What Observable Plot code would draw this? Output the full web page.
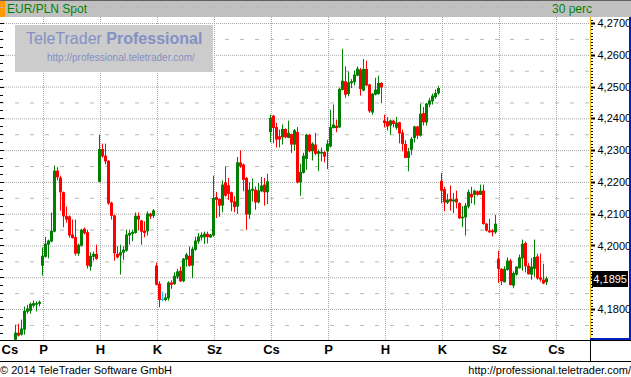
<!DOCTYPE html>
<html><head><meta charset="utf-8">
<script src="https://cdn.jsdelivr.net/npm/d3@7"></script>
<script src="https://cdn.jsdelivr.net/npm/@observablehq/plot@0.6"></script>
<style>
html,body{margin:0;padding:0;background:#fff;}
#wrap{position:relative;width:631px;height:377px;overflow:hidden;background:#fff;font-family:"Liberation Sans",Arial,sans-serif;}
.abs{position:absolute;}
</style></head><body>
<div id="wrap">
  <div class="abs" style="left:0;top:0;width:631px;height:17px;background:#c0c0c0;"></div>
  <div class="abs" style="left:0;top:0;width:631px;height:1px;background:#606060;"></div>
  <div class="abs" style="left:0;top:1px;width:5px;height:16px;background:#ff9900;"></div>
  <div class="abs" style="left:7px;top:2px;font-size:12px;line-height:14px;color:#008000;">EUR/PLN Spot</div>
  <div class="abs" style="left:552px;top:2px;font-size:12px;line-height:14px;color:#008000;">30 perc</div>
  <div id="chart" class="abs" style="left:0;top:17px;"></div>
  <div class="abs" style="left:15px;top:25px;width:198px;height:47px;background:#cccccc;"></div>
  <div class="abs" style="left:26px;top:30px;font-size:16px;line-height:18px;color:#8590c4;white-space:nowrap;">TeleTrader <b>Professional</b></div>
  <div class="abs" style="left:47px;top:52px;font-size:10px;line-height:11px;color:#8590c4;white-space:nowrap;">http://professional.teletrader.com/</div>
  <div class="abs" style="left:0;top:361px;width:631px;height:1px;background:#000;"></div>
  <div class="abs" style="left:0;top:363px;font-size:11px;line-height:14px;color:#000;white-space:nowrap;">© 2014 TeleTrader Software GmbH</div>
  <div class="abs" style="right:0;top:363px;font-size:11px;line-height:14px;color:#000;white-space:nowrap;">http://professional.teletrader.com/</div>
</div>
<script>
// EUR/PLN Spot, 30-minute bars
const dayNames = ["Cs","P","H","K","Sz","Cs","P","H","K","Sz","Cs"];
const sessionBars = 19;   // half-hour bars in a full session
const firstDayBars = 9;   // bars of the partial first session shown
const yTicks = [4.18, 4.19, 4.20, 4.21, 4.22, 4.23, 4.24, 4.25, 4.26, 4.27];
const lastPrice = 4.1895;

const open = [
  4.1705,4.1724,4.1721,4.1737,4.1793,4.1796,4.1812,4.1815,4.1818,
  4.1938,4.1966,4.2004,4.2014,4.2045,4.2234,4.2212,4.2166,4.2091,4.2090,4.2033,4.2025,4.1976,4.2001,4.2051,4.2040,4.1935,4.1966,4.1972,
  4.2202,4.2302,4.2281,4.2265,4.2133,4.2093,4.1972,4.1970,4.1979,4.1985,4.2033,4.2038,4.2041,4.2092,4.2077,4.2045,4.2046,4.2099,4.2095,
  4.1935,4.1878,4.1830,4.1830,4.1835,4.1882,4.1880,4.1903,4.1919,4.1889,4.1957,4.1966,4.1938,4.1988,4.2014,4.2027,4.2027,4.2035,4.2027,
  4.2033,4.2151,4.2145,4.2127,4.2197,4.2188,4.2166,4.2137,4.2124,4.2260,4.2253,4.2211,4.2099,4.2174,4.2174,4.2137,4.2172,4.2190,4.2169,
  4.2358,4.2407,4.2371,4.2342,4.2342,4.2365,4.2340,4.2349,4.2319,4.2356,4.2200,4.2230,4.2274,4.2347,4.2298,4.2316,4.2290,4.2291,4.2293,
  4.2298,4.2313,4.2371,4.2375,4.2373,4.2491,4.2515,4.2478,4.2512,4.2515,4.2536,4.2552,4.2489,4.2554,4.2505,4.2420,4.2476,4.2478,4.2510,
  4.2392,4.2389,4.2379,4.2391,4.2372,4.2386,4.2354,4.2318,4.2277,4.2303,4.2340,4.2373,4.2347,4.2415,4.2389,4.2445,4.2455,4.2468,4.2480,
  4.2202,4.2176,4.2136,4.2145,4.2140,4.2146,4.2132,4.2087,4.2090,4.2124,4.2161,4.2161,4.2169,4.2161,4.2171,4.2067,4.2046,4.2046,4.2043,
  4.1957,4.1925,4.1886,4.1925,4.1951,4.1875,4.1910,4.1930,4.1961,4.2006,4.1935,4.1910,4.1928,4.1964,4.1898,4.1891,4.1886
];
const high = [
  4.1749,4.1752,4.1765,4.1806,4.1812,4.1819,4.1825,4.1823,4.1825,
  4.1992,4.2026,4.2017,4.2102,4.2250,4.2245,4.2218,4.2168,4.2121,4.2093,4.2080,4.2080,4.2004,4.2051,4.2055,4.2048,4.1977,4.1979,4.2001,
  4.2347,4.2319,4.2319,4.2267,4.2136,4.2095,4.1996,4.2001,4.1996,4.2048,4.2048,4.2048,4.2102,4.2102,4.2079,4.2074,4.2106,4.2101,4.2113,
  4.1945,4.1886,4.1854,4.1847,4.1886,4.1889,4.1914,4.1925,4.1932,4.1959,4.1975,4.1995,4.1994,4.2026,4.2038,4.2040,4.2042,4.2042,4.2035,
  4.2218,4.2167,4.2147,4.2203,4.2247,4.2211,4.2168,4.2153,4.2277,4.2298,4.2256,4.2214,4.2197,4.2209,4.2184,4.2195,4.2214,4.2211,4.2224,
  4.2410,4.2409,4.2384,4.2363,4.2379,4.2367,4.2391,4.2350,4.2365,4.2371,4.2256,4.2290,4.2350,4.2349,4.2323,4.2353,4.2300,4.2307,4.2295,
  4.2331,4.2426,4.2442,4.2394,4.2495,4.2617,4.2562,4.2546,4.2522,4.2549,4.2562,4.2557,4.2585,4.2580,4.2507,4.2478,4.2526,4.2533,4.2512,
  4.2410,4.2402,4.2394,4.2394,4.2403,4.2388,4.2363,4.2329,4.2305,4.2340,4.2375,4.2375,4.2445,4.2434,4.2447,4.2463,4.2476,4.2489,4.2501,
  4.2227,4.2183,4.2161,4.2187,4.2164,4.2171,4.2134,4.2122,4.2132,4.2174,4.2183,4.2174,4.2171,4.2190,4.2190,4.2069,4.2082,4.2050,4.2095,
  4.1982,4.1927,4.1933,4.1961,4.1956,4.1917,4.1933,4.1970,4.2017,4.2011,4.1943,4.1959,4.2017,4.1972,4.1973,4.1941,4.1901
];
const low = [
  4.1702,4.1715,4.1718,4.1721,4.1787,4.1787,4.1806,4.1794,4.1810,
  4.1907,4.1963,4.1961,4.2012,4.2043,4.2206,4.2111,4.2059,4.2073,4.2026,4.2023,4.1970,4.1969,4.1998,4.2036,4.1929,4.1922,4.1954,4.1957,
  4.2200,4.2278,4.2257,4.2130,4.2083,4.1954,4.1961,4.1910,4.1956,4.1982,4.2004,4.2015,4.2039,4.2050,4.2004,4.2027,4.2033,4.2085,4.2088,
  4.1876,4.1807,4.1826,4.1826,4.1828,4.1865,4.1878,4.1896,4.1887,4.1886,4.1935,4.1935,4.1899,4.1985,4.2007,4.2017,4.2006,4.2008,4.2025,
  4.2029,4.2088,4.2092,4.2106,4.2155,4.2145,4.2109,4.2106,4.2101,4.2246,4.2172,4.2050,4.2085,4.2140,4.2114,4.2134,4.2169,4.2127,4.2132,
  4.2326,4.2323,4.2310,4.2310,4.2319,4.2339,4.2339,4.2293,4.2300,4.2197,4.2158,4.2228,4.2240,4.2295,4.2269,4.2286,4.2235,4.2266,4.2263,
  4.2242,4.2310,4.2370,4.2358,4.2372,4.2489,4.2466,4.2471,4.2497,4.2505,4.2534,4.2473,4.2487,4.2503,4.2419,4.2413,4.2474,4.2476,4.2449,
  4.2373,4.2363,4.2350,4.2373,4.2366,4.2323,4.2298,4.2276,4.2235,4.2287,4.2326,4.2337,4.2344,4.2379,4.2379,4.2436,4.2445,4.2463,4.2476,
  4.2134,4.2109,4.2132,4.2111,4.2103,4.2118,4.2085,4.2059,4.2033,4.2118,4.2134,4.2130,4.2158,4.2160,4.2067,4.2046,4.2042,4.2030,4.2038,
  4.1884,4.1877,4.1885,4.1922,4.1876,4.1867,4.1907,4.1929,4.1922,4.1917,4.1910,4.1894,4.1903,4.1894,4.1888,4.1880,4.1877
];
const close = [
  4.1724,4.1718,4.1737,4.1793,4.1800,4.1815,4.1817,4.1817,4.1821,
  4.1966,4.2004,4.2014,4.2045,4.2234,4.2216,4.2169,4.2093,4.2083,4.2033,4.2025,4.1976,4.2001,4.2048,4.2040,4.1938,4.1966,4.1972,4.1959,
  4.2302,4.2282,4.2266,4.2134,4.2095,4.1977,4.1964,4.1977,4.1985,4.2033,4.2038,4.2041,4.2092,4.2083,4.2045,4.2041,4.2099,4.2093,4.2109,
  4.1878,4.1830,4.1830,4.1835,4.1882,4.1878,4.1903,4.1917,4.1889,4.1957,4.1970,4.1938,4.1988,4.2014,4.2027,4.2032,4.2036,4.2028,4.2033,
  4.2148,4.2145,4.2127,4.2190,4.2158,4.2164,4.2137,4.2122,4.2260,4.2250,4.2208,4.2099,4.2174,4.2177,4.2137,4.2172,4.2187,4.2169,4.2200,
  4.2400,4.2371,4.2335,4.2335,4.2365,4.2342,4.2353,4.2319,4.2361,4.2200,4.2230,4.2281,4.2347,4.2298,4.2319,4.2290,4.2295,4.2293,4.2281,
  4.2319,4.2371,4.2379,4.2371,4.2491,4.2517,4.2476,4.2512,4.2515,4.2536,4.2555,4.2494,4.2554,4.2505,4.2424,4.2476,4.2489,4.2510,4.2499,
  4.2387,4.2376,4.2392,4.2384,4.2385,4.2354,4.2321,4.2277,4.2295,4.2334,4.2373,4.2347,4.2413,4.2389,4.2445,4.2455,4.2470,4.2478,4.2494,
  4.2174,4.2137,4.2143,4.2140,4.2143,4.2137,4.2087,4.2089,4.2124,4.2167,4.2153,4.2171,4.2161,4.2171,4.2069,4.2048,4.2043,4.2043,4.2067,
  4.1928,4.1889,4.1925,4.1951,4.1877,4.1912,4.1932,4.1961,4.2004,4.1936,4.1911,4.1932,4.1962,4.1898,4.1894,4.1882,4.1895
];

const bars = open.map((o, i) => ({i, open: o, high: high[i], low: low[i], close: close[i]}));
const candleColor = d => d.close > d.open ? "#008000" : d.close < d.open ? "#ff0000" : "#00ccff";
const dayTicks = dayNames.slice(1).map((name, d) => ({name, i: firstDayBars + d * sessionBars}));
const gridX = d => d.i + 1 / 3;
const halfTicks = yTicks.map(v => v - 0.005).concat([yTicks[yTicks.length - 1] + 0.005]);
const fmt = v => v.toFixed(4).replace(".", ",");
const labelTicks = yTicks.filter(v => Math.abs(v - lastPrice) > 0.003);

const chart = Plot.plot({
  width: 631, height: 344,
  marginLeft: 0, marginRight: 41, marginTop: 0, marginBottom: 21,
  x: {domain: [-5, 191 + 2 / 3], axis: null},
  y: {domain: [4.17026, 4.27189], axis: null},
  style: {background: "transparent", fontFamily: "'Liberation Sans', Arial, sans-serif", color: "#000", overflow: "visible"},
  marks: [
    Plot.ruleY(halfTicks, {stroke: "#b8b8b8", strokeDasharray: "4,11"}),
    Plot.ruleY(yTicks, {stroke: "#a8a8a8", strokeDasharray: "1,1"}),
    Plot.ruleX(dayTicks, {x: gridX, stroke: "#a8a8a8", strokeDasharray: "1,1"}),
    Plot.ruleX(bars, {x: "i", y1: "high", y2: "low", stroke: candleColor, strokeWidth: 1, insetTop: -0.5, insetBottom: -0.5}),
    Plot.ruleX(bars, {x: "i", y1: d => Math.max(d.open, d.close), y2: d => Math.min(d.open, d.close), stroke: candleColor, strokeWidth: 3, insetTop: -0.5, insetBottom: -0.5}),
    Plot.axisY(labelTicks, {anchor: "right", tickSize: 0, tickPadding: 7, tickFormat: fmt, fontSize: 11}),
    Plot.text(dayTicks, {x: gridX, text: "name", frameAnchor: "bottom", dy: 13, fontSize: 13, fontWeight: "bold"}),
    Plot.text([dayNames[0]], {frameAnchor: "bottom-left", dx: 1, dy: 13, textAnchor: "start", fontSize: 13, fontWeight: "bold"})
  ]
});
document.getElementById("chart").appendChild(chart);

// decorations positioned through the chart's own y scale
const ys = chart.scale("y");
const svg = d3.select(chart);
const deco = svg.append("g");
const [d0, d1] = ys.domain;
const minor = d3.range(Math.ceil(d0 * 1000), Math.floor(d1 * 1000) + 1).map(k => k / 1000);
const quarter = d3.range(Math.ceil(d0 * 400), Math.floor(d1 * 400) + 1).map(k => k / 400);
const px = v => Math.round(ys.apply(v));
deco.append("rect").attr("x", 590).attr("y", 0).attr("width", 1).attr("height", 323).attr("fill", "#f0b800");
deco.append("rect").attr("x", 629).attr("y", 0).attr("width", 2).attr("height", 323).attr("fill", "#0020c0");
deco.append("rect").attr("x", 590).attr("y", 321).attr("width", 41).attr("height", 2).attr("fill", "#0020c0");
deco.append("rect").attr("x", 0).attr("y", 323).attr("width", 631).attr("height", 1).attr("fill", "#000");
deco.append("rect").attr("x", 590).attr("y", 323).attr("width", 1).attr("height", 21).attr("fill", "#000");
minor.forEach(v => {
  const major = Math.abs(v * 100 - Math.round(v * 100)) < 1e-6;
  deco.append("rect").attr("x", 591).attr("y", px(v) - (major ? 0.5 : 0)).attr("width", major ? 4 : 2).attr("height", major ? 2 : 1).attr("fill", "#000");
});
quarter.forEach(v => {
  const major = Math.abs(v * 100 - Math.round(v * 100)) < 1e-6;
  deco.append("rect").attr("x", 0).attr("y", px(v)).attr("width", major ? 4 : 3).attr("height", 1).attr("fill", "#000");
});
const ly = px(lastPrice);
deco.append("rect").attr("x", 592).attr("y", ly - 8).attr("width", 36).attr("height", 16).attr("fill", "#000");
deco.append("text").attr("x", 627).attr("y", ly + 0.5).attr("dy", "0.35em")
  .attr("text-anchor", "end").attr("font-family", "'Liberation Sans', Arial, sans-serif")
  .attr("fill", "#fff").attr("font-size", 11).text(fmt(lastPrice));
</script>
</body></html>
